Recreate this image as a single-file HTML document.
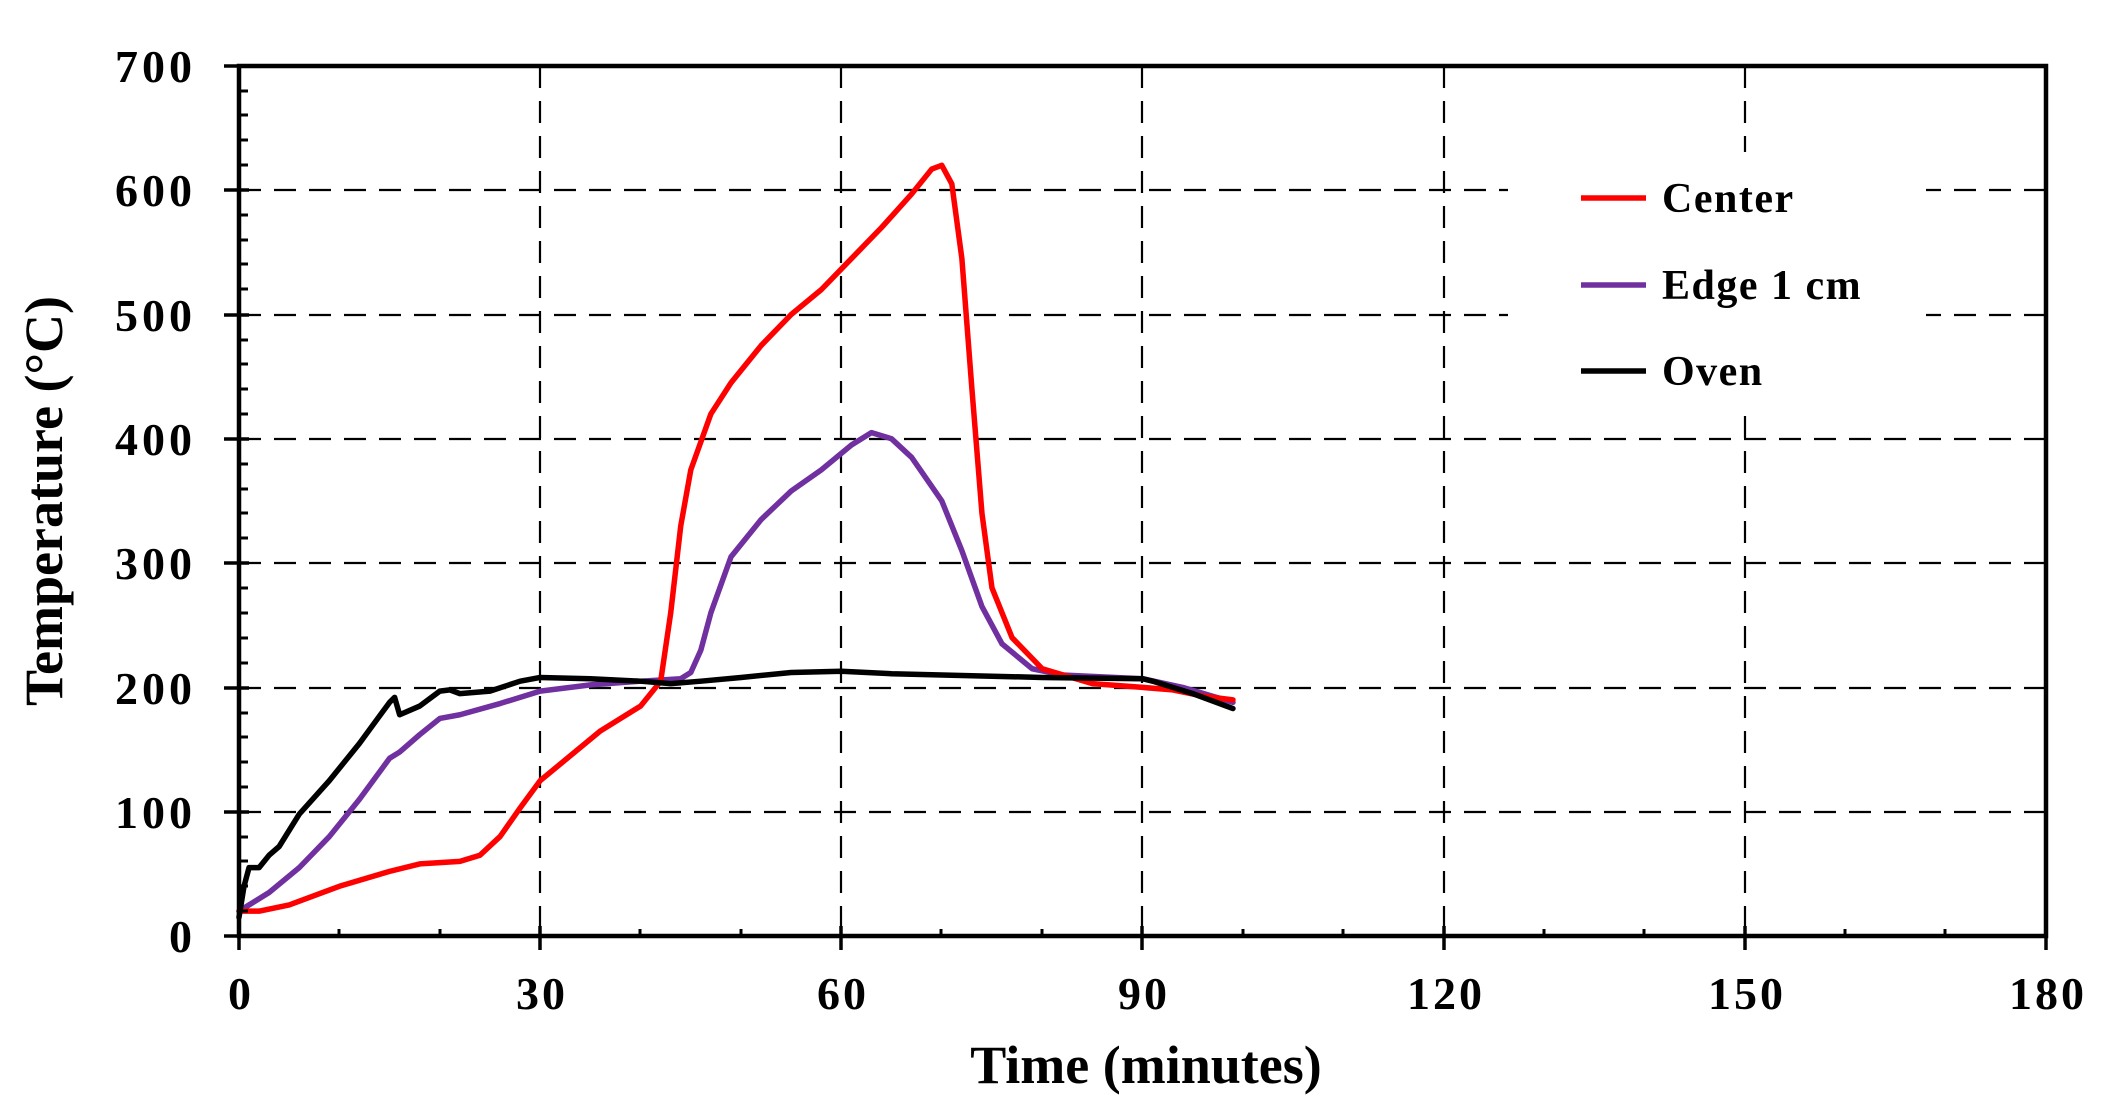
<!DOCTYPE html>
<html><head><meta charset="utf-8"><style>html,body{margin:0;padding:0;background:#fff}svg{display:block}</style></head>
<body>
<svg width="2117" height="1119" viewBox="0 0 2117 1119" xmlns="http://www.w3.org/2000/svg" font-family="'Liberation Serif', serif" font-weight="bold">
<rect width="2117" height="1119" fill="#fff"/>
<g stroke="#000" stroke-width="2.2" stroke-dasharray="22,13" fill="none">
<line x1="239" y1="190" x2="2046" y2="190"/>
<line x1="239" y1="315" x2="2046" y2="315"/>
<line x1="239" y1="439" x2="2046" y2="439"/>
<line x1="239" y1="563" x2="2046" y2="563"/>
<line x1="239" y1="688" x2="2046" y2="688"/>
<line x1="239" y1="812" x2="2046" y2="812"/>
<line x1="540" y1="66" x2="540" y2="936"/>
<line x1="841" y1="66" x2="841" y2="936"/>
<line x1="1142" y1="66" x2="1142" y2="936"/>
<line x1="1444" y1="66" x2="1444" y2="936"/>
<line x1="1745" y1="66" x2="1745" y2="936"/>
</g>
<rect x="1508" y="152" width="418" height="264" fill="#fff"/>
<g fill="none" stroke-linejoin="round" stroke-linecap="round" transform="translate(239,936) scale(10.04,-1.243)">
<polyline vector-effect="non-scaling-stroke" stroke="#7030a0" stroke-width="5.5" points="0,20 3,35 6,55 9,80 12,110 15,143 16,148 18,162 20,175 22,178 26,187 30,197 35,202 40,205 44,207 45,212 46,230 47,260 49,305 52,335 55,358 58,375 61,395 63,405 65,400 67,385 70,350 72,310 74,265 76,235 79,215 82,210 90,207 94,200 99,188"/>
<polyline vector-effect="non-scaling-stroke" stroke="#ff0000" stroke-width="5.5" points="0,20 2,20 5,25 10,40 15,52 18,58 22,60 24,65 26,80 28,103 30,125 33,145 36,165 40,185 42,205 43,260 44,330 45,375 47,420 49,445 52,475 55,500 58,520 61,545 64,570 67,597 69,617 70,620 71,605 72,545 73,440 74,340 75,280 77,240 80,215 85,203 90,200 93,198 96,193 99,190"/>
<polyline vector-effect="non-scaling-stroke" stroke="#000" stroke-width="5.5" points="0,15 0.5,40 1,55 2,55 3,65 4,72 6,98 9,125 12,155 15,188 15.5,192 16,178 18,185 20,197 21,198 22,195 25,197 28,205 30,208 35,207 40,205 43,203 46,205 50,208 55,212 60,213 65,211 70,210 80,208 90,207 91,205 95,195 99,183"/>
</g>
<rect x="239" y="66" width="1807" height="870" fill="none" stroke="#000" stroke-width="4.5"/>
<g stroke="#000" stroke-width="3.5">
<line x1="224" y1="66" x2="249" y2="66"/><line x1="224" y1="190" x2="249" y2="190"/><line x1="224" y1="315" x2="249" y2="315"/><line x1="224" y1="439" x2="249" y2="439"/><line x1="224" y1="563" x2="249" y2="563"/><line x1="224" y1="688" x2="249" y2="688"/><line x1="224" y1="812" x2="249" y2="812"/><line x1="224" y1="936" x2="249" y2="936"/>
<line x1="239" y1="926" x2="239" y2="950"/><line x1="540" y1="926" x2="540" y2="950"/><line x1="841" y1="926" x2="841" y2="950"/><line x1="1142" y1="926" x2="1142" y2="950"/><line x1="1444" y1="926" x2="1444" y2="950"/><line x1="1745" y1="926" x2="1745" y2="950"/><line x1="2046" y1="926" x2="2046" y2="950"/>
</g>
<path stroke="#000" stroke-width="3" d="M239 91h9M239 115h9M239 140h9M239 165h9M239 215h9M239 240h9M239 264h9M239 289h9M239 340h9M239 364h9M239 389h9M239 414h9M239 464h9M239 489h9M239 513h9M239 538h9M239 588h9M239 613h9M239 638h9M239 663h9M239 713h9M239 737h9M239 762h9M239 787h9M239 837h9M239 861h9M239 886h9M239 911h9M339 936v-7M440 936v-7M640 936v-7M741 936v-7M941 936v-7M1042 936v-7M1243 936v-7M1343 936v-7M1544 936v-7M1644 936v-7M1845 936v-7M1945 936v-7"/>
<g font-size="46" text-anchor="end" letter-spacing="4">
<text x="196" y="82">700</text><text x="196" y="206">600</text><text x="196" y="331">500</text><text x="196" y="455">400</text><text x="196" y="579">300</text><text x="196" y="704">200</text><text x="196" y="828">100</text><text x="196" y="952">0</text>
</g>
<g font-size="46" text-anchor="middle" letter-spacing="3">
<text x="241" y="1009">0</text><text x="542" y="1009">30</text><text x="843" y="1009">60</text><text x="1144" y="1009">90</text><text x="1446" y="1009">120</text><text x="1747" y="1009">150</text><text x="2048" y="1009">180</text>
</g>
<text x="1146" y="1083" font-size="54" text-anchor="middle">Time (minutes)</text>
<text transform="translate(62,501) rotate(-90)" font-size="54" text-anchor="middle">Temperature (°C)</text>
<g stroke-width="5.5">
<line x1="1581" y1="198" x2="1646" y2="198" stroke="#ff0000"/>
<line x1="1581" y1="285" x2="1646" y2="285" stroke="#7030a0"/>
<line x1="1581" y1="371" x2="1646" y2="371" stroke="#000"/>
</g>
<g font-size="42" letter-spacing="1.5">
<text x="1662" y="212">Center</text><text x="1662" y="299">Edge 1 cm</text><text x="1662" y="385">Oven</text>
</g>
</svg>
</body></html>
